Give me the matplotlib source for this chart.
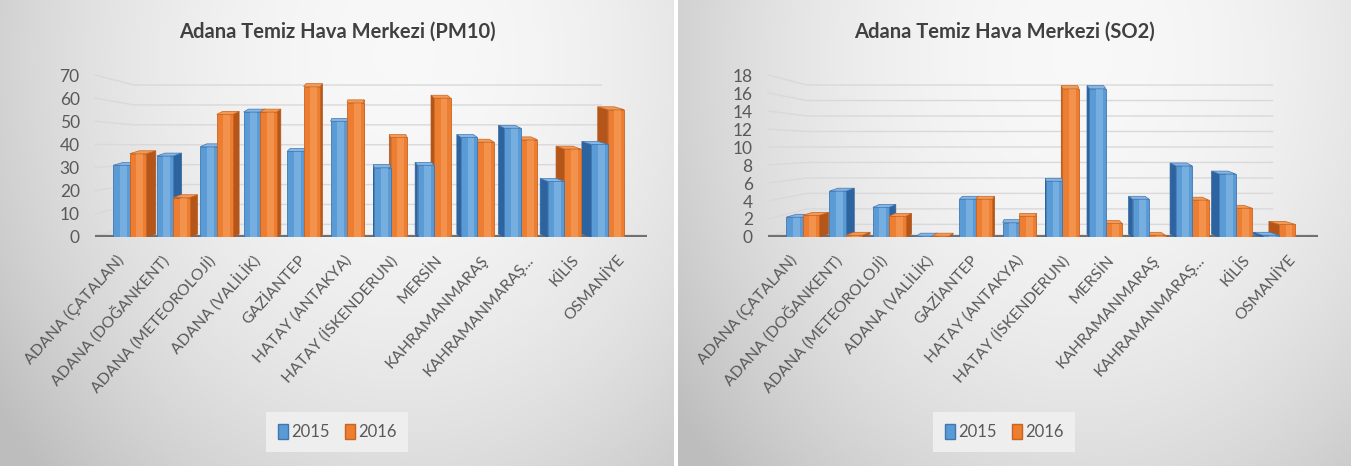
import numpy as np
import matplotlib
matplotlib.use('Agg')
import matplotlib.pyplot as plt
from matplotlib.patches import Polygon, Patch
from matplotlib.colors import LinearSegmentedColormap

# Station names (x categories)
stations = ['ADANA (ÇATALAN)', 'ADANA (DOĞANKENT)', 'ADANA (METEOROLOJİ)',
            'ADANA (VALİLİK)', 'GAZİANTEP', 'HATAY (ANTAKYA)',
            'HATAY (İSKENDERUN)', 'MERSİN', 'KAHRAMANMARAŞ',
            'KAHRAMANMARAŞ...', 'KİLİS', 'OSMANİYE']
years = ['2015', '2016']

# Yearly means per station
pm10_2015 = [31, 35, 39, 54, 37, 50, 30, 31, 43, 47, 24, 40]
pm10_2016 = [36, 17, 53, 54, 65, 58, 43, 60, 41, 42, 38, 55]
so2_2015 = [2.2, 5.1, 3.3, 0.1, 4.2, 1.6, 6.2, 16.5, 4.2, 7.9, 7.0, 0.2]
so2_2016 = [2.4, 0.2, 2.3, 0.1, 4.2, 2.3, 16.5, 1.5, 0.2, 4.1, 3.2, 1.4]

BLUE = dict(front='#5B9BD5', light='#8DBEEA', side='#2D64A0', top='#86B6E4', edge='#3F77B2')
ORANGE = dict(front='#ED7D31', light='#F7A564', side='#B4561A', top='#F49A55', edge='#C9641F')

LABEL_FONT = ['Lato', 'DejaVu Sans']
TITLE_FONT = ['Lato', 'DejaVu Sans']
TEXT_GREY = '#595959'

W = 0.38       # bar width
MID = 5.5      # where the "camera" sits, in category units
SKEW = 0.041   # side-face width per category away from MID

FIG_W, FIG_H = 1351, 466


def panel_background(fig, x0, x1):
    ax = fig.add_axes([x0 / FIG_W, 0, (x1 - x0) / FIG_W, 1], zorder=-10)
    yy, xx = np.mgrid[0:1:300j, 0:1:400j]
    d = ((xx - 0.6) / 0.75) ** 2 + ((yy - 0.12) / 1.3) ** 2
    shade = np.clip(1 - d, 0, 1)
    cmap = LinearSegmentedColormap.from_list('bg', ['#BDBDBD', '#F8F8F8'])
    ax.imshow(shade, cmap=cmap, extent=[0, 1, 0, 1], aspect='auto', vmin=0, vmax=1)
    ax.axis('off')


def draw_series(ax, vals, offset, pal, ymax):
    dy = 0.018 * ymax
    xs = np.arange(len(vals)) + offset
    fronts = ax.bar(xs, vals, W, color=pal['front'], edgecolor=pal['edge'], linewidth=0.6)
    shines = ax.bar(xs + 0.04, vals, W * 0.42, color=pal['light'], alpha=0.55, linewidth=0)
    for x, v, fr, sh in zip(xs, vals, fronts, shines):
        z = 3 - abs(x - MID) * 0.1
        dx = (MID - x) * SKEW
        left, right = x - W / 2, x + W / 2
        edge = right if dx > 0 else left
        side = Polygon([(edge, 0), (edge, v), (edge + dx, v + dy), (edge + dx, dy)],
                       closed=True, facecolor=pal['side'], edgecolor=pal['side'],
                       linewidth=0.5, zorder=z)
        top = Polygon([(left, v), (right, v), (right + dx, v + dy), (left + dx, v + dy)],
                      closed=True, facecolor=pal['top'], edgecolor=pal['edge'],
                      linewidth=0.5, zorder=z + 0.003)
        ax.add_patch(side)
        ax.add_patch(top)
        fr.set_zorder(z + 0.001)
        sh.set_zorder(z + 0.002)


def draw_panel(fig, x0, x1, v15, v16, ymax, step, title, cx):
    ax = fig.add_axes([x0 / FIG_W, 1 - 237 / FIG_H, (x1 - x0) / FIG_W, 162 / FIG_H])
    ax.set_facecolor('none')
    ax.set_xlim(-0.8, 11.9)
    ax.set_ylim(0, ymax)

    # back-wall gridlines with a short perspective run-in on the left
    for v in range(0, ymax + 1, step):
        wall = v * 0.86 + 0.078 * ymax
        ax.plot([-0.8, 0.1, 10.85], [v, wall, wall], color='#D9D9D9', lw=1.0,
                zorder=0.5, clip_on=False)

    # floor edge
    ax.axhline(0, color='#6F6F6F', lw=3.5, zorder=0.8)
    ax.axhline(0.012 * ymax, color='#A8A8A8', lw=1.0, zorder=0.7)

    draw_series(ax, v15, -W / 2, BLUE, ymax)
    draw_series(ax, v16, W / 2, ORANGE, ymax)

    for s in ax.spines.values():
        s.set_visible(False)
    ax.set_yticks(range(0, ymax + 1, step))
    ax.tick_params(axis='y', length=0, pad=11, labelsize=12.5, labelcolor=TEXT_GREY)
    for t in ax.get_yticklabels():
        t.set_family(LABEL_FONT)

    pos = np.arange(len(stations)) * 1.048 - 0.2
    ax.set_xticks(pos)
    ax.set_xticklabels(stations, rotation=48, ha='right', va='center',
                       rotation_mode='anchor', family=LABEL_FONT, fontsize=11.3,
                       color=TEXT_GREY)
    ax.tick_params(axis='x', length=0, pad=15)

    fig.text(cx / FIG_W, 1 - 32 / FIG_H, title, ha='center', va='center',
             fontsize=14.5, fontweight='bold', color='#404040', family=TITLE_FONT)

    handles = [Patch(facecolor=BLUE['front'], edgecolor=BLUE['edge']),
               Patch(facecolor=ORANGE['front'], edgecolor=ORANGE['edge'])]
    leg = fig.legend(handles, years, loc='center', bbox_to_anchor=(cx / FIG_W, 1 - 432 / FIG_H),
                     ncol=2, frameon=True, fancybox=False, framealpha=1,
                     facecolor='#EEEEEE', edgecolor='none', handlelength=0.6,
                     handleheight=1.0, handletextpad=0.2, columnspacing=0.9,
                     borderpad=0.7, prop={'family': LABEL_FONT, 'size': 12})
    for t in leg.get_texts():
        t.set_color(TEXT_GREY)
    return ax


fig = plt.figure(figsize=(FIG_W / 100, FIG_H / 100), dpi=100, facecolor='white')
panel_background(fig, 0, 674)
panel_background(fig, 678, 1351)

draw_panel(fig, 95, 647, pm10_2015, pm10_2016, 70, 10,
           'Adana Temiz Hava Merkezi (PM10)', 337)
draw_panel(fig, 768, 1318, so2_2015, so2_2016, 18, 2,
           'Adana Temiz Hava Merkezi (SO2)', 1004)

fig.savefig('out.png', dpi=100, facecolor='white')
